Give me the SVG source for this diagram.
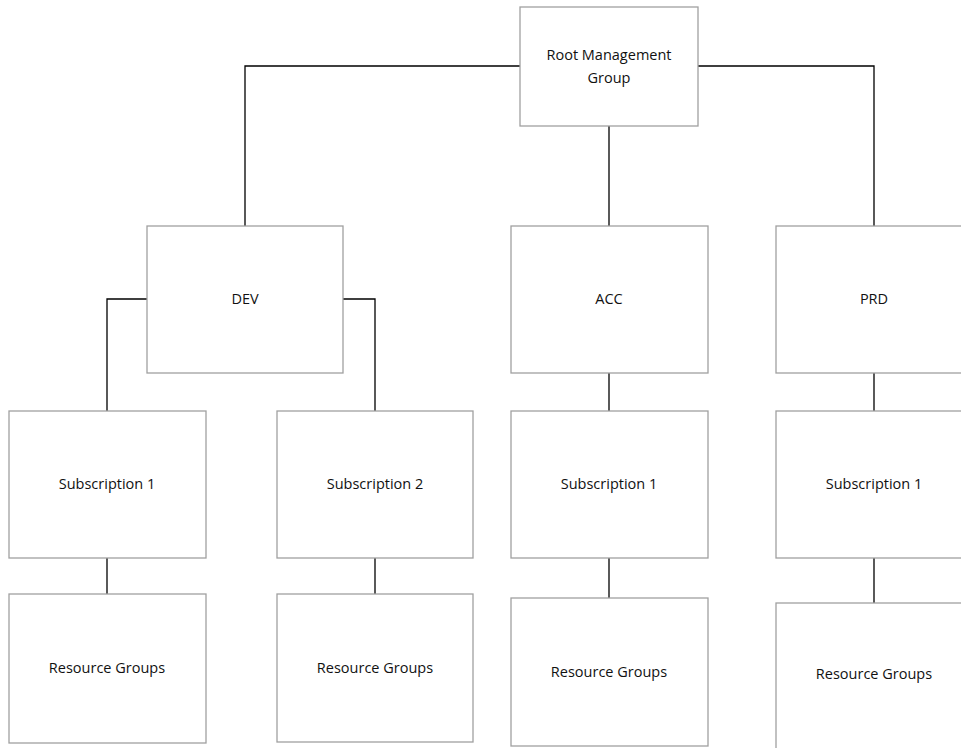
<svg xmlns="http://www.w3.org/2000/svg" width="961" height="748" viewBox="0 0 961 748">
  <style>
    .box { fill: #ffffff; stroke: #a0a0a0; stroke-width: 1.3; }
    .lbl { font-family: "Open Sans", "Liberation Sans", sans-serif; font-size: 14.5px; fill: #111111; text-anchor: middle; }
    .wire { fill: none; stroke: #000000; stroke-width: 1.3; }
  </style>
  <rect width="961" height="748" fill="#ffffff"/>

  <!-- connectors -->
  <g id="connectors">
    <path class="wire" d="M520,66 H245 V226"/>
    <path class="wire" d="M698,66 H874 V226"/>
    <path class="wire" d="M609,126 V226"/>
    <path class="wire" d="M147,299 H107 V411"/>
    <path class="wire" d="M343,299 H375 V411"/>
    <path class="wire" d="M609,373 V411"/>
    <path class="wire" d="M874,373 V411"/>
    <path class="wire" d="M107,558 V594"/>
    <path class="wire" d="M375,558 V594"/>
    <path class="wire" d="M609,558 V598"/>
    <path class="wire" d="M874,558 V603"/>
  </g>

  <g id="root">
    <rect class="box" x="520" y="7" width="178" height="119"/>
    <text class="lbl" x="609" y="60">Root Management</text>
    <text class="lbl" x="609" y="83">Group</text>
  </g>

  <g id="dev">
    <rect class="box" x="147" y="226" width="196" height="147"/>
    <text class="lbl" x="245" y="304">DEV</text>
  </g>
  <g id="acc">
    <rect class="box" x="511" y="226" width="197" height="147"/>
    <text class="lbl" x="609" y="304">ACC</text>
  </g>
  <g id="prd">
    <rect class="box" x="776" y="226" width="196" height="147"/>
    <text class="lbl" x="874" y="304">PRD</text>
  </g>

  <g id="dev-sub1">
    <rect class="box" x="9" y="411" width="197" height="147"/>
    <text class="lbl" x="107" y="489">Subscription 1</text>
  </g>
  <g id="dev-sub2">
    <rect class="box" x="277" y="411" width="196" height="147"/>
    <text class="lbl" x="375" y="489">Subscription 2</text>
  </g>
  <g id="acc-sub1">
    <rect class="box" x="511" y="411" width="197" height="147"/>
    <text class="lbl" x="609" y="489">Subscription 1</text>
  </g>
  <g id="prd-sub1">
    <rect class="box" x="776" y="411" width="196" height="147"/>
    <text class="lbl" x="874" y="489">Subscription 1</text>
  </g>

  <g id="dev-sub1-rg">
    <rect class="box" x="9" y="594" width="197" height="149"/>
    <text class="lbl" x="107" y="673">Resource Groups</text>
  </g>
  <g id="dev-sub2-rg">
    <rect class="box" x="277" y="594" width="196" height="148"/>
    <text class="lbl" x="375" y="673">Resource Groups</text>
  </g>
  <g id="acc-sub1-rg">
    <rect class="box" x="511" y="598" width="197" height="148"/>
    <text class="lbl" x="609" y="677">Resource Groups</text>
  </g>
  <g id="prd-sub1-rg">
    <rect class="box" x="776" y="603" width="196" height="160"/>
    <text class="lbl" x="874" y="679">Resource Groups</text>
  </g>
</svg>
